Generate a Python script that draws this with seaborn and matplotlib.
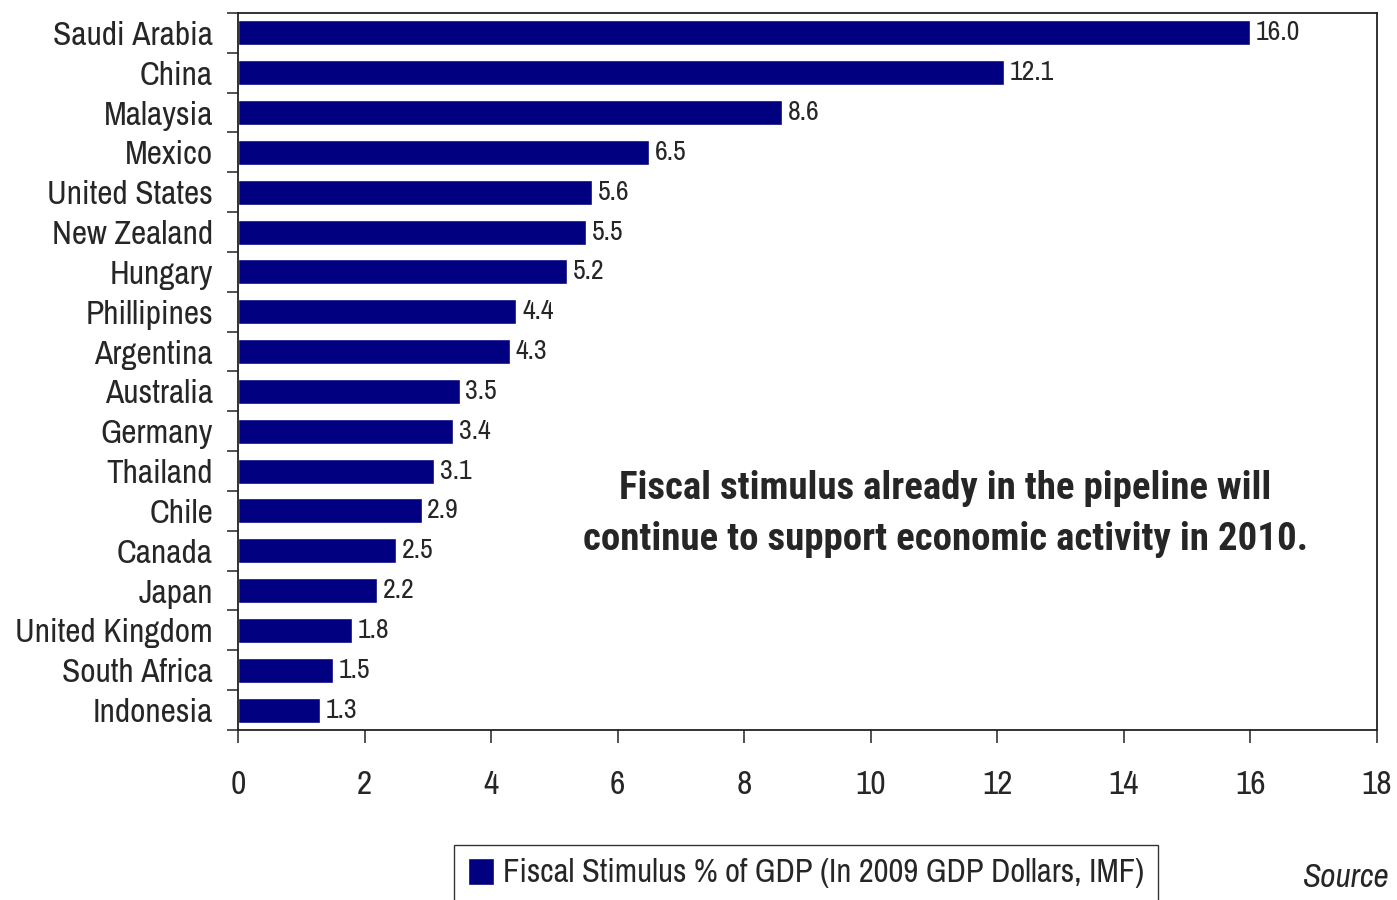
import matplotlib
matplotlib.use("Agg")
import matplotlib.pyplot as plt
import seaborn as sns
import pandas as pd
from matplotlib.ticker import FixedLocator

countries = ["Saudi Arabia", "China", "Malaysia", "Mexico", "United States", "New Zealand",
             "Hungary", "Phillipines", "Argentina", "Australia", "Germany", "Thailand",
             "Chile", "Canada", "Japan", "United Kingdom", "South Africa", "Indonesia"]
stimulus = [16.0, 12.1, 8.6, 6.5, 5.6, 5.5, 5.2, 4.4, 4.3, 3.5, 3.4, 3.1, 2.9, 2.5, 2.2, 1.8, 1.5, 1.3]
x_ticks = [0, 2, 4, 6, 8, 10, 12, 14, 16, 18]
series_label = "Fiscal Stimulus % of GDP (In 2009 GDP Dollars, IMF)"
note = "Fiscal stimulus already in the pipeline will\ncontinue to support economic activity in 2010."

sns.set_style("white")
plt.rcParams["font.family"] = ["Archivo Narrow", "Roboto Condensed", "DejaVu Sans"]

df = pd.DataFrame({"country": countries, "value": stimulus})

fig = plt.figure(figsize=(13.97, 9), dpi=100)
ax = fig.add_axes([0.1704, 0.1889, 0.8153, 0.7967])
sns.barplot(data=df, y="country", x="value", orient="h", color="#000080",
            width=0.63, saturation=1, ax=ax, label=series_label)

for cont in ax.containers:
    ax.bar_label(cont, fmt="%.1f", padding=4, fontsize=20)

ax.set_xlim(0, 18)
ax.set_ylim(len(countries) - 0.5, -0.5)
ax.set_xticks(x_ticks)
ax.set_xlabel("")
ax.set_ylabel("")
ax.tick_params(axis="x", labelsize=24, direction="out", length=9, width=1.2,
               color="#333333", bottom=True, pad=20)
ax.tick_params(axis="y", which="major", labelsize=24, length=0, pad=18)
ax.yaxis.set_minor_locator(FixedLocator([i + 0.5 for i in range(-1, len(countries))]))
ax.tick_params(axis="y", which="minor", direction="out", length=8, width=1.2,
               color="#333333", left=True)
for s in ax.spines.values():
    s.set_color("#222222")
    s.set_linewidth(1.3)

ax.text(0.621, 0.301, note, transform=ax.transAxes, ha="center", va="center",
        fontsize=28, fontweight="bold", linespacing=1.5,
        family=["Roboto Condensed", "DejaVu Sans"])

leg = ax.legend(loc="center", bbox_to_anchor=(0.577, 0.03), bbox_transform=fig.transFigure,
                fontsize=23.5, frameon=True, fancybox=False, edgecolor="black",
                handlelength=0.8, handleheight=0.9, handletextpad=0.3, borderpad=0.4)
leg.get_frame().set_linewidth(1.0)

fig.text(0.933, 0.024, "Source", fontsize=24, style="italic", ha="left", va="center")

fig.savefig("out.png", dpi=100)
